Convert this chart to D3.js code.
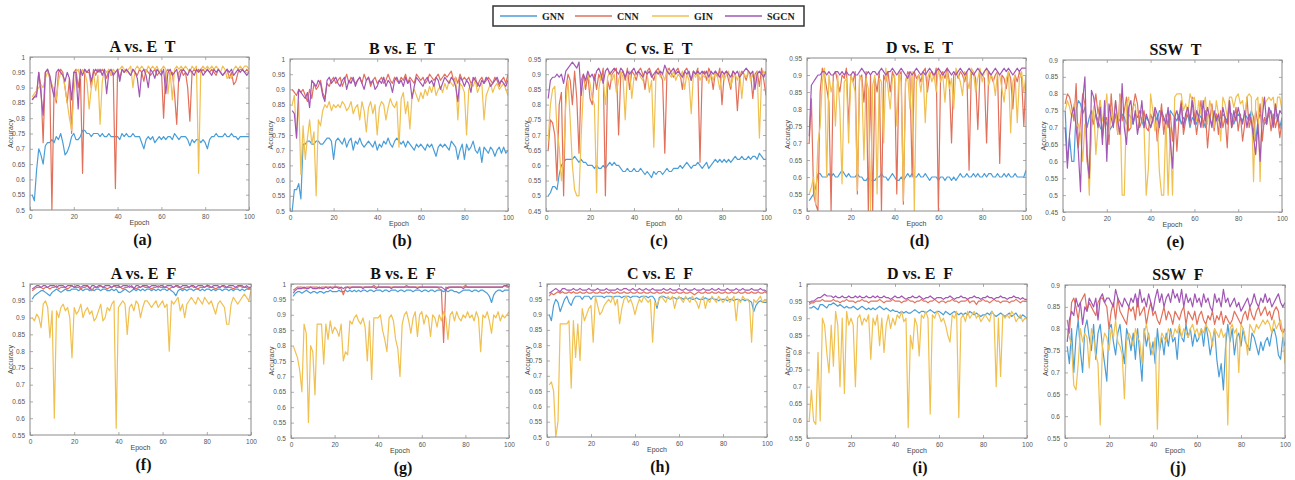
<!DOCTYPE html>
<html>
<head>
<meta charset="utf-8">
<script src="https://cdn.jsdelivr.net/npm/d3@7"></script>
<style>
body { margin: 0; background: #fff; }
text { font-family: "Liberation Sans", Arial, sans-serif; }
.ttl { font-family: "Liberation Serif", "Times New Roman", serif; font-weight: bold; font-size: 16px; fill: #111; white-space: pre; }
.leg { font-family: "Liberation Serif", "Times New Roman", serif; font-weight: bold; font-size: 10px; fill: #222; }
.lab { font-size: 7px; fill: #444; }
</style>
</head>
<body>
<div id="chart"></div>
<script>
// ---- data (accuracy in percent, epochs 1..100) ----
var seriesNames = ["GNN", "CNN", "GIN", "SGCN"];
var seriesColors = ["#4a9ed8", "#e2705a", "#f0c050", "#a257b5"];
var panelTitles = ["A vs. E  T", "B vs. E  T", "C vs. E  T", "D vs. E  T", "SSW  T",
                   "A vs. E  F", "B vs. E  F", "C vs. E  F", "D vs. E  F", "SSW  F"];
var panelLabels = ["(a)", "(b)", "(c)", "(d)", "(e)", "(f)", "(g)", "(h)", "(i)", "(j)"];
var xTicks = [0, 20, 40, 60, 80, 100];
var yRanges = [[50, 100], [50, 100], [45, 95], [50, 95], [45, 90],
               [55, 100], [50, 100], [50, 100], [55, 100], [55, 90]];

var gnnA = [55,53,63,70,68,65,71,72,72,73, 72,74,73,75,72,68,69,71,74,75, 73,73,74,76,76,75,75,74,75,75, 75,74,75,74,74,75,74,74,74,74,
            73,75,74,75,74,74,75,74,74,74, 72,70,73,74,73,74,72,73,74,73, 74,73,74,74,73,75,74,73,74,74, 74,73,71,73,72,73,73,72,73,72,
            70,73,74,74,75,74,74,74,75,74, 74,75,74,74,73,74,74,74,74,74];
var cnnA = [86,87,88,95,90,72,95,96,93,50, 90,85,95,96,95,90,85,93,75,95, 96,90,95,62,96,95,95,90,96,94, 96,95,96,95,93,96,94,95,57,96,
            93,96,95,96,95,94,96,95,94,96, 95,92,96,95,94,95,96,94,95,96, 80,95,96,94,95,88,78,95,96,94, 95,90,79,95,96,95,96,95,96,95,
            96,95,96,95,94,96,95,94,95,96, 93,95,91,92,95,96,96,95,96,95];
var ginA = [87,88,89,90,91,90,93,95,94,91, 89,86,92,95,94,90,85,80,76,88, 95,96,93,96,95,92,83,90,95,89, 94,78,92,96,95,96,94,96,95,96,
            96,97,96,95,96,97,90,96,97,96, 97,96,95,97,96,97,96,97,95,96, 97,96,88,95,86,96,97,96,97,96, 97,96,95,97,96,97,62,96,97,96,
            97,96,97,96,97,96,95,97,96,93, 94,93,96,97,96,97,96,97,97,96];
var sgcnA = [86,87,87,95,88,81,95,96,94,90, 87,95,96,95,94,92,95,93,86,95, 95,83,96,94,96,95,96,92,95,96, 95,96,94,96,88,95,96,94,95,96,
             92,96,95,96,95,94,96,95,93,87, 95,96,94,90,96,95,93,96,95,94, 96,88,95,96,94,95,96,92,95,96, 95,94,96,95,94,96,95,96,94,95,
             96,95,94,96,95,96,95,94,95,96, 95,96,94,95,96,95,96,95,94,95];

var gnnB = [50,57,57,59,54,72,72,73,73,72, 72,73,73,72,72,73,74,74,73,67, 73,74,73,72,74,71,73,74,70,73, 72,74,72,71,72,73,72,71,73,70,
            72,71,73,72,74,72,71,73,74,73, 72,73,71,73,72,71,70,72,71,72, 71,70,72,71,72,70,68,71,72,71, 72,71,70,73,72,71,67,70,72,67,
            72,70,71,73,70,69,71,66,71,70, 69,71,70,68,70,71,69,71,69,70];
var cnnB = [90,89,88,90,89,90,88,86,90,87, 92,90,91,93,89,87,92,91,93,94, 92,93,94,91,93,95,92,94,93,92, 93,94,92,95,93,94,91,93,94,92,
            93,94,92,93,95,93,92,94,93,92, 94,93,95,92,94,93,92,95,94,93, 94,92,93,95,94,93,94,95,93,94, 95,94,95,96,93,94,92,95,93,94,
            93,94,92,93,94,91,93,94,92,93, 94,93,92,94,93,91,93,94,92,95];
var ginB = [85,88,74,86,62,78,67,74,80,72, 76,55,80,78,83,85,84,86,83,85, 84,85,84,86,85,83,84,86,82,84, 85,80,86,83,76,84,86,82,85,75,
            84,86,85,80,84,87,85,84,86,71, 87,89,82,86,77,88,90,88,86,89, 87,90,88,91,89,92,88,90,91,89, 92,90,93,92,91,94,80,92,91,89,
            75,90,92,91,93,89,91,92,80,88, 90,92,89,91,92,90,91,92,90,88];
var sgcnB = [83,82,74,90,89,88,87,89,84,93, 92,91,93,92,88,86,93,94,92,93, 94,92,91,93,94,90,93,92,94,91, 93,94,92,90,93,94,92,93,90,91,
             93,92,94,91,93,92,89,93,94,92, 93,91,94,92,93,87,91,94,93,92, 91,93,94,92,93,91,94,93,90,92, 94,93,92,94,93,91,86,94,93,91,
             93,92,89,94,93,92,91,93,92,94, 93,91,92,93,94,92,93,92,91,93];

var gnnC = [50,51,53,53,52,57,60,61,62,62, 62,62,63,62,61,62,61,61,60,60, 60,59,60,59,59,60,59,60,61,60, 61,60,60,59,58,58,59,58,58,59,
            58,58,59,58,57,58,57,56,58,57, 58,58,57,58,59,58,58,59,59,59, 60,59,60,61,60,59,60,60,61,60, 59,60,61,59,60,61,62,61,62,61,
            62,61,62,61,62,63,62,62,63,62, 62,63,62,63,63,62,64,63,62,62];
var cnnC = [65,75,74,70,55,80,84,50,85,90, 88,80,91,82,64,88,90,85,90,82, 80,90,85,90,88,92,50,88,85,90, 91,92,70,90,91,88,92,85,91,90,
            88,91,92,90,85,91,92,90,88,91, 92,90,88,64,91,92,90,89,91,92, 90,85,91,92,90,88,91,90,92,61, 90,91,88,92,90,85,91,89,92,80,
            90,91,88,85,91,90,78,89,91,90, 88,91,90,82,90,91,86,92,88,83];
var ginC = [68,80,85,86,72,66,55,62,80,88, 75,60,52,50,50,70,85,88,90,87, 82,80,51,85,90,88,80,89,91,88, 90,84,88,91,89,75,90,91,82,89,
            90,91,89,88,91,90,84,88,66,90, 91,89,90,88,92,90,89,91,88,90, 89,91,85,90,88,77,90,89,91,88, 90,89,91,87,90,88,91,89,85,90,
            88,90,91,86,89,90,88,91,82,90, 89,91,88,90,86,91,69,89,91,90];
var sgcnC = [82,88,89,89,90,89,90,87,91,92, 93,94,93,92,94,83,90,88,91,89, 90,88,91,92,90,87,91,92,90,91, 92,91,90,92,91,89,91,90,91,92,
             90,91,90,89,91,90,91,89,90,91, 90,91,90,93,91,90,91,92,90,91, 90,89,91,90,91,88,91,90,91,90, 91,90,91,89,91,90,91,90,89,91,
             90,91,90,89,91,90,91,89,90,91, 92,91,90,91,85,90,91,90,89,91];

var gnnD = [53,54,55,57,61,61,60,60,60,61, 60,61,60,60,61,62,61,60,61,60, 60,60,61,60,60,59,59,60,59,59, 59,60,60,61,60,60,59,60,61,60,
            59,59,60,59,60,61,60,61,60,60, 61,60,60,61,60,59,60,60,60,59, 60,60,59,60,60,59,60,59,60,61, 60,60,61,60,60,61,60,61,60,60,
            61,60,61,61,60,60,61,60,60,61, 60,61,60,60,61,60,60,60,60,62];
var cnnD = [70,83,55,52,50,85,92,90,86,82, 50,90,91,88,85,90,89,92,75,90, 88,91,55,89,90,82,91,50,90,50, 89,85,91,50,90,88,91,85,91,89,
            55,90,91,52,88,91,90,60,91,89, 90,88,91,92,85,90,91,89,92,50, 90,91,89,92,88,70,90,91,89,91, 90,88,91,62,90,91,89,74,91,90,
            89,70,91,90,88,90,91,64,90,89, 86,91,89,80,90,88,91,89,75,90];
var ginD = [55,57,60,52,70,75,88,92,60,90, 85,88,75,90,80,58,88,89,70,90, 88,85,56,90,88,65,89,86,50,87, 90,55,89,88,70,92,86,80,89,90,
            75,91,88,53,88,90,80,91,50,88, 90,85,91,76,89,91,88,90,85,92, 88,90,82,91,86,89,80,92,90,88, 84,91,89,86,92,91,85,89,92,88,
            91,92,87,90,89,84,91,90,86,82, 89,91,73,88,90,76,89,91,85,90];
var sgcnD = [72,87,88,89,90,90,91,91,90,91, 90,90,91,91,90,91,90,91,90,90, 91,90,90,91,92,91,90,91,90,91, 91,90,91,92,91,90,91,91,92,91,
             90,91,92,91,90,89,91,90,91,92, 91,90,91,90,91,92,91,90,91,92, 91,90,91,92,91,90,91,90,91,92, 91,90,91,92,91,90,91,92,91,90,
             91,92,91,90,91,92,91,90,91,92, 91,92,91,90,91,92,91,92,92,92];

var gnnE = [75,60,67,60,60,75,78,77,74,76, 70,73,75,71,74,72,70,69,73,71, 69,70,71,74,73,72,74,73,71,74, 73,71,74,73,75,72,70,73,72,70,
            73,74,72,75,74,72,73,71,75,74, 73,72,74,71,73,72,74,70,73,72, 71,74,73,72,70,74,73,71,73,74, 72,73,74,73,72,75,74,71,73,74,
            73,72,74,73,72,75,73,66,72,74, 73,71,72,74,75,72,73,74,70,73];
var cnnE = [77,80,79,76,72,83,64,72,80,77, 60,55,70,75,80,74,78,67,72,73, 65,80,71,74,68,80,72,75,79,69, 70,76,80,77,70,72,75,70,69,74,
            72,75,66,71,77,68,74,70,74,66, 75,63,73,78,68,72,76,71,79,74, 68,73,78,70,75,64,72,77,69,74, 68,75,70,73,64,78,70,72,76,69,
            74,66,71,79,70,73,68,75,71,77, 66,73,71,75,69,74,70,73,67,72];
var ginE = [75,78,76,73,77,70,71,68,60,71, 65,50,72,76,62,70,78,72,74,80, 68,76,72,78,68,79,50,50,77,79, 70,76,77,69,73,75,70,50,58,80,
            75,69,72,57,50,50,73,50,70,50, 79,80,80,80,75,77,74,80,78,79, 72,78,74,76,79,71,78,75,70,78, 74,66,79,77,73,79,79,76,79,80,
            77,78,73,79,80,79,54,78,79,54, 79,77,78,79,78,79,73,79,79,75];
var sgcnE = [70,58,68,74,76,70,63,51,78,85, 62,55,81,79,74,70,76,65,78,60, 77,73,70,78,72,68,83,70,65,76, 78,71,75,68,72,78,70,74,72,70,
             72,76,74,70,75,73,71,76,66,58, 73,75,72,77,70,74,76,72,78,71, 75,73,70,78,72,76,73,70,75,72, 74,70,76,73,71,78,70,75,72,76,
             73,71,75,70,74,72,67,62,71,60, 73,79,71,76,74,70,77,72,75,74];

var gnnF = [95.5,96.5,97,97.5,98,98,97.5,97,96.5,97.5, 98,98.5,98,97.5,98,98.5,98,98,98.5,98.5, 98.5,98,98.5,98,98.5,98.5,98,98.5,98,98.5,
            98.5,98,98.5,98.5,98,98,98.5,98,98.5,97.5, 97.5,98,98.5,98,97.5,98,98.5,98,98.5,98, 98.5,98,98.5,98.5,98,98.5,98,98.5,98,98.5,
            98.5,98,98.5,98,97.5,96.5,98,98.5,98,98.5, 98,98.5,98.5,98,98.5,98.5,98,98.5,98,98.5, 98.5,98,98.5,98,98.5,98.5,98,98.5,98.5,98,
            98.5,98,98.5,98.5,98,98.5,98,98.5,98.5,98.5];
var cnnF = [98,98.5,99,99,99,98.5,99,99,98.5,99, 99,99.5,98.5,99,99,99,98.5,99,99.5,99, 99,99,98.5,99,99,99.5,99,98,99,99,
            99,99.5,99,99,98.5,99,99,99.5,99,99, 99,98.5,99,99,99.5,99,99,98.5,99,99, 99.5,99,99,99,98.5,99,99,99.5,99,99,
            99,99,98.5,99,99,99.5,99,99,98.5,99, 99,99,99.5,99,99,98.5,99,99,99,99.5, 99,99,99,98.5,99,99,99.5,99,99,99,
            99,98.5,99,99,99.5,99,99,99,98.5,99];
var ginF = [90,89,91,90,87,94,95,93,84,92, 60,92,90,93,94,92,93,90,78,93, 91,92,94,90,92,93,91,92,89,90, 92,94,89,90,93,92,94,95,57,93,
            94,95,94,85,93,94,92,95,94,90, 93,95,95,94,93,94,95,93,94,95, 93,94,80,95,94,95,96,92,94,90, 94,95,96,95,94,96,95,94,96,95,
            94,95,93,91,94,95,94,93,88,88, 94,96,95,94,95,96,97,96,95,98];
var sgcnF = [98.5,99,99.5,99.5,99,99.5,99.5,99,99.5,99.5, 99.5,99,99.5,99.5,99.5,99,99.5,99.5,99.5,99, 99.5,99.5,99,99.5,99.5,99.5,98.5,99.5,99.5,99,
             99.5,99.5,99,99.5,99.5,99.5,99,99.5,99.5,99.5, 99,99.5,99.5,99.5,99,99.5,98.5,99.5,99.5,99, 99.5,99.5,99.5,99,99.5,99.5,99.5,99,99.5,99.5,
             99,99.5,99.5,99.5,99,99.5,99.5,99,99.5,99.5, 99.5,99,99.5,99.5,99,99.5,99.5,99.5,99,99.5, 99.5,99,99.5,99.5,99.5,99,99.5,99.5,99,99.5,
             99.5,99.5,99,99.5,99.5,99.5,99,99.5,99,99];

var gnnG = [96,97,97.5,97.5,97,97.5,98,97.5,97,97.5, 97.5,97,97.5,97.5,97,97.5,97.5,98,97.5,97.5, 97.5,98,97.5,97.5,98,97.5,98,97.5,98,97.5,
            98,97.5,98,98,97.5,98,98,97.5,98,98, 98,97.5,98,98,97.5,98,98,98,97.5,98, 98,97.5,98,98,98,97.5,98,98,98,97.5,
            98,98,97.5,98,98,97.5,98,98,98,97.5, 98,97.5,98,98,97.5,97.5,97,97.5,98,98, 98,98,97.5,98,98,97.5,98,98,97.5,97,
            96,94,96.5,97.5,98,98,97.5,98,98,98];
var cnnG = [98,98.5,99,99,99,98.5,99,99,99,99, 99,99,98.5,99,99,99,99,99,99,99, 99,99,98.5,96.5,98.5,99,99,99,99,99,
            99,99,99,99,99,99,99,99.5,99,99, 99,99,99,99,99,99,99,99,99,99, 99,99,99.5,99,99,99,99,99,99,99,
            99,99,99,99,99,99,99,98.5,98,81, 99,98.5,99,99,99,99,99,99,99,99.5, 99,99,99,99,99,99,99,99,99,99,
            99,99,99,99,99,99,99,99.5,99,99];
var ginG = [80,78,76,72,65,87,84,55,80,78, 64,87,87,87,74,87,82,88,84,86, 85,83,87,75,78,77,88,87,89,90, 88,87,89,86,75,88,69,89,89,89,
            90,85,82,78,89,90,88,82,79,70, 87,90,91,88,84,89,91,83,90,91, 87,90,89,83,90,89,86,90,88,91, 89,82,90,91,88,91,89,88,90,89,
            91,89,90,88,91,89,78,90,89,91, 88,84,90,89,91,88,90,89,90,91];
var sgcnG = [97,98,98.5,98.5,98.5,99,98.5,98.5,99,98.5, 98.5,98.5,99,98.5,98.5,99,98.5,99,98.5,99, 99,98.5,99,98.5,99,99,98.5,99,99,99,
             99,99,98.5,99,99,99,99,99,98.5,99, 99,99,99,99,99,98.5,99,99,99,99, 99,99,99,99,99,99,99,98.5,99,99,
             99,99,99,99,99,99,99,99,99,98.5, 98,99,99,99,99,99,99,99,98.5,99, 99,99,99,99,99,99,99,99,99,99,
             99,99,99,99,99,99,99,99.5,99.5,99];

var gnnH = [90,88,93,95,94,91,93,95,96,94, 93,95,96,96,96,95,96,96,96,95, 96,96,96,96,96,95.5,96,96,96,95.5, 96,96,96,95.5,96,96,96,95.5,96,96,
            96,95.5,96,96,96,95.5,96,96,95,92, 95.5,96,96,95.5,95.5,95,95.5,95.5,95,95.5, 95.5,95,95.5,95,95.5,95,95,95.5,95,95,
            95,95.5,95,95,95.5,95,95,94.5,95,95, 95,94.5,95,95,94.5,95,95,94.5,95,94.5, 95,94.5,94,91,93,94,94.5,94,94,94];
var cnnH = [96,97,96.5,97,97.5,97,97.5,97,97,97.5, 97,97.5,97,97,97.5,97,97,97.5,97,97, 97.5,97,97,97.5,97,97,97.5,97,97.5,97,
            97,97.5,97,97,97.5,97,97,97.5,97,97, 97.5,97,97,97.5,97,97,97.5,97,97,97.5, 97,97,97.5,97,97,97.5,97,97,97.5,97,
            97,97.5,97,97,97.5,97,96.5,97,97.5,97, 97,97.5,97,97,97.5,97,97,97.5,97,97, 97.5,97,97,97.5,97,97,97.5,97,97,97.5,
            97,97,97.5,97,97,97.5,97,97,97.5,97];
var ginH = [67,68,65,50,55,87,87,87,87,88, 66,88,76,87,75,92,88,90,92,93, 81,96,93,90,91,93,94,95,94,96, 93,95,87,92,95,96,94,95,93,90,
            93,95,94,96,95,94,95,81,94,93, 95,96,95,94,96,95,96,92,95,96, 95,94,96,95,94,96,95,94,92,95, 96,92,95,94,96,95,94,96,95,94,
            95,96,94,95,96,88,95,94,96,95, 95,94,81,95,94,95,96,94,95,94];
var sgcnH = [97,97.5,98,98.5,98,97.5,98.5,98.5,98,98, 98,98.5,98,98,98.5,98,98,98,98.5,98, 98,98,98.5,98,98,98,98.5,98,98,98,
             98,98.5,98,98,98.5,98.5,98,98,98.5,98, 98,98.5,98,98,98.5,98,98,98.5,98,98, 98,98,98.5,98,98,98.5,98,98,98,98.5,
             98,98,98.5,98,98,98,98.5,98,98,98, 98.5,98,98,98,98.5,98,98,98.5,98,98, 98,98.5,98,98,98,98.5,98,98,98.5,98,
             98,98,98.5,98,98,98,98.5,98,98,97.5];

var gnnI = [93,93,93.5,93,92.5,94,94,93.5,93,94, 94,94.5,94,93.5,94,93.5,93,93.5,93,93, 93.5,93,92.5,93,93.5,93,92.5,93,92.5,93,
            92.5,93,93.5,93,92.5,93,92.5,92,92.5,92, 92,91.5,92,91.5,92,91.5,91.5,92,92.5,92, 91.5,92,92,91.5,92,92.5,92,91.5,92,92,
            91.5,91,92,91.5,91,91.5,92,91.5,91,91.5, 91,91.5,91,92,91.5,91,91.5,91,90.5,91, 91,91.5,91,92,91,90.5,91,91.5,91,90.5,
            91,91.5,90.5,91,91.5,90.5,90,91,90.5,90];
var cnnI = [94,94.5,94.5,95,95,95,95.5,95,95,95, 95,95.5,95,95,94.5,95,95,95.5,95,95, 95,94.5,95,95,95.5,95,95,94.5,95,95,
            95,95,95.5,95,94.5,95,95,95,95.5,95, 95,95,94.5,95,95,95.5,95,95,94.5,95, 95,95.5,95,95,94.5,95,95,95.5,95,94.5,
            95,95,94.5,95,95,95.5,95,95,94.5,95, 95,95,95.5,94.5,95,95,94,95,95,95.5, 95,95,94.5,95,95.5,95,95,94.5,95,95,
            95,94.5,95,95,95.5,95,94.5,95,95,95];
var ginI = [60,69,60,59,80,60,90,88,80,74, 88,76,92,88,70,90,68,92,88,90, 88,70,90,91,88,90,89,91,78,90, 88,91,82,90,80,88,91,87,90,88,
            91,90,92,89,90,58,85,81,90,88, 79,91,90,92,90,62,91,90,92,91, 89,90,88,85,83,91,90,92,61,90, 91,89,92,90,91,92,90,91,89,90,
            91,90,89,92,91,70,90,73,91,90, 91,90,92,91,89,90,91,89,90,90];
var sgcnI = [94.5,95,95,95.5,96,96,96.5,97,96.5,96.5, 96.5,96,96.5,96,96,96.5,96,96,96.5,96, 96,96.5,96,96.5,96,96,96.5,96,96,96.5,
             96,96.5,96,96,96.5,96,96,95.5,96,96.5, 96,96,96.5,96,95.5,96,96,96.5,96,96, 96.5,96,95.5,96,96,96.5,96,95.5,96,96,
             96,95.5,96,96,96.5,96,95.5,96,96,96.5, 96,96,95.5,96,96,96.5,96,96,95.5,96, 96,96.5,96,96,95.5,96,96,96.5,96,96,
             95.5,96,96,96.5,96,96,95.5,96,95.5,95.5];

var gnnJ = [76,72,80,70,78,82,75,70,80,82, 78,75,81,73,79,81,76,72,68,80, 81,77,74,79,81,76,72,80,78,75, 79,73,80,74,68,80,76,79,74,77,
            72,80,75,78,74,79,76,80,77,78, 73,80,78,77,81,78,80,76,79,77, 78,80,76,81,78,74,77,80,73,69, 72,66,76,81,77,80,74,78,79,76,
            80,77,76,75,79,78,76,74,77,75, 77,78,76,79,80,78,74,73,78,76];
var cnnJ = [82,79,86,87,85,82,86,87,88,84, 86,85,84,83,86,87,87,86,85,80, 84,86,82,87,84,83,82,81,85,84, 85,82,87,83,84,85,81,84,86,83,
            84,82,81,83,85,82,84,83,81,84, 83,82,84,85,81,84,83,82,84,81, 83,84,82,81,83,82,84,81,83,82, 84,81,83,82,81,82,84,83,82,81,
            83,84,82,85,83,82,84,85,83,84, 85,83,84,82,84,85,84,80,79,80];
var ginJ = [80,78,76,67,66,72,80,77,79,78, 71,80,78,74,72,58,76,79,78,75, 80,78,82,77,76,74,64,77,79,78, 76,80,78,77,72,79,81,78,76,74,
            78,57,76,79,78,77,80,79,78,80, 79,81,78,80,79,78,80,81,79,80, 78,80,79,81,80,79,76,80,79,78, 80,78,79,58,80,81,79,80,70,81,
            80,78,74,81,80,79,81,80,81,82, 81,82,81,79,82,80,81,82,79,72];
var sgcnJ = [77,82,84,83,87,85,86,81,85,84, 87,86,85,87,82,87,88,86,87,87, 86,85,89,87,86,85,87,86,85,87, 86,88,85,89,86,87,85,88,86,84,
             87,89,86,88,85,87,88,86,89,87, 88,86,89,85,88,86,87,85,88,86, 87,85,88,86,87,85,84,88,86,87, 85,89,86,87,85,86,87,85,86,84,
             85,86,87,85,86,88,86,85,87,86, 88,86,87,85,86,87,88,86,85,86];

var panelSeries = [
  [gnnA, cnnA, ginA, sgcnA], [gnnB, cnnB, ginB, sgcnB], [gnnC, cnnC, ginC, sgcnC],
  [gnnD, cnnD, ginD, sgcnD], [gnnE, cnnE, ginE, sgcnE], [gnnF, cnnF, ginF, sgcnF],
  [gnnG, cnnG, ginG, sgcnG], [gnnH, cnnH, ginH, sgcnH], [gnnI, cnnI, ginI, sgcnI],
  [gnnJ, cnnJ, ginJ, sgcnJ]
];

// plot boxes: left, top, right, bottom
var boxes = [
  [30, 57, 249, 210], [290, 59, 508, 211], [546, 59, 766, 211], [807, 58, 1026, 211], [1063, 60, 1282, 212],
  [30, 284, 251, 435], [291, 284, 509, 438], [547, 284, 767, 437], [807, 284, 1027, 438], [1065, 285, 1285, 438]
];

var svg = d3.select("#chart").append("svg")
    .attr("width", 1295)
    .attr("height", 480);

// legend
var leg = svg.append("g");
leg.append("rect")
    .attr("x", 493).attr("y", 6)
    .attr("width", 311).attr("height", 20)
    .attr("fill", "#fff")
    .attr("stroke", "#333")
    .attr("stroke-width", 1.5);
var legX = [500, 575, 652, 725];
seriesNames.forEach(function(name, i) {
    leg.append("line")
        .attr("x1", legX[i]).attr("x2", legX[i] + 37)
        .attr("y1", 16).attr("y2", 16)
        .attr("stroke", seriesColors[i])
        .attr("stroke-width", 1.5);
    leg.append("text")
        .attr("class", "leg")
        .attr("x", legX[i] + 42)
        .attr("y", 19.5)
        .text(name);
});

panelSeries.forEach(function(series, p) {
    var b = boxes[p];
    var w = b[2] - b[0], h = b[3] - b[1];
    var g = svg.append("g").attr("transform", `translate(${b[0]}, ${b[1]})`);

    var x = d3.scaleLinear().domain([0, 100]).range([0, w]);
    var y = d3.scaleLinear().domain(yRanges[p]).range([h, 0]);
    var yTicks = d3.range(yRanges[p][0], yRanges[p][1] + 0.1, 5);

    g.append("rect").attr("width", w).attr("height", h).attr("fill", "#fff");

    g.append("clipPath").attr("id", "clip" + p)
        .append("rect").attr("width", w).attr("height", h);

    // axes with inward ticks on all four sides
    var bottomAxis = d3.axisBottom(x).tickValues(xTicks).tickSize(-3).tickPadding(4);
    var leftAxis = d3.axisLeft(y).tickValues(yTicks).tickSize(-3).tickPadding(5)
        .tickFormat(d => String(d / 100));
    var topAxis = d3.axisTop(x).tickValues(xTicks).tickSize(-3).tickFormat("");
    var rightAxis = d3.axisRight(y).tickValues(yTicks).tickSize(-3).tickFormat("");

    var axes = [
        g.append("g").attr("transform", `translate(0, ${h})`).call(bottomAxis),
        g.append("g").call(leftAxis),
        g.append("g").call(topAxis),
        g.append("g").attr("transform", `translate(${w}, 0)`).call(rightAxis)
    ];
    axes.forEach(function(a) {
        a.select(".domain").remove();
        a.selectAll("line").attr("stroke", "#999").attr("stroke-width", 0.8);
        a.selectAll("text")
            .attr("font-family", "Liberation Sans, Arial, sans-serif")
            .attr("font-size", 6.5)
            .attr("fill", "#555");
    });

    var line = d3.line()
        .x((d, i) => x(i + 1))
        .y(d => y(d));

    var lines = g.append("g").attr("clip-path", `url(#clip${p})`);
    series.forEach(function(s, k) {
        lines.append("path")
            .datum(s)
            .attr("fill", "none")
            .attr("stroke", seriesColors[k])
            .attr("stroke-width", 1.2)
            .attr("stroke-linejoin", "round")
            .attr("d", line);
    });

    g.append("rect").attr("width", w).attr("height", h)
        .attr("fill", "none").attr("stroke", "#8a8a8a").attr("stroke-width", 1);

    // labels
    g.append("text").attr("class", "lab")
        .attr("x", w / 2).attr("y", h + 15)
        .attr("text-anchor", "middle")
        .text("Epoch");
    g.append("text").attr("class", "lab")
        .attr("transform", "rotate(-90)")
        .attr("x", -h / 2).attr("y", -17)
        .attr("text-anchor", "middle")
        .text("Accuracy");
    g.append("text").attr("class", "ttl")
        .attr("x", w / 2 + 3).attr("y", -5)
        .attr("text-anchor", "middle")
        .text(panelTitles[p]);
    g.append("text").attr("class", "ttl")
        .attr("x", w / 2 + 3).attr("y", h + 35)
        .attr("text-anchor", "middle")
        .text(panelLabels[p]);
});
</script>
</body>
</html>
